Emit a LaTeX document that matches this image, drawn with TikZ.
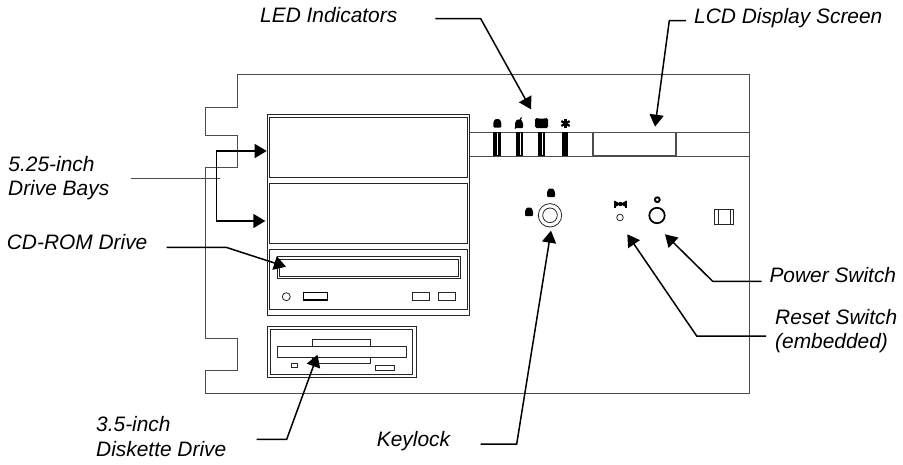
\documentclass[tikz,border=0pt]{standalone}
\usepackage{fontspec}
\setmainfont{Liberation Sans}
\usetikzlibrary{arrows.meta}
\tikzset{
  panelline/.style={draw=black!70,line width=0.9pt},
  bayline/.style={draw=black!85,line width=1pt},
  partline/.style={draw=black!85,line width=0.8pt},
  callout/.style={line width=1.5pt,line join=miter,-{Triangle[length=12pt,width=14pt]}},
  partlabel/.style={anchor=base west,inner sep=0pt,align=left,text=black,
    font=\fontsize{20.9}{25}\selectfont\itshape},
  icon/.style={fill=black,draw=none},
}
\newcommand{\lockmark}[2]{%
  \fill[icon,rounded corners=1pt] (#1-4,#2+4) -- (#1-4,#2-1) -- (#1-2.2,#2-4.5) -- (#1+2.2,#2-4.5)
    -- (#1+4,#2-1) -- (#1+4,#2+4) -- cycle;}
\begin{document}
\begin{tikzpicture}[x=1pt,y=-1pt]
\useasboundingbox (0,0) rectangle (903,464);

% chassis outline
\draw[panelline] (237,74) -- (237,107) -- (205,107) -- (205,135) -- (237,135) -- (237,167.5)
  -- (205,167.5) -- (205,338) -- (237,338) -- (237,370) -- (205,370) -- (205,393)
  -- (749,393) -- (749,74) -- cycle;

% display strip
\draw[panelline] (469,132) -- (749,132);
\draw[panelline] (469,156) -- (749,156);
\foreach \x/\w in {493.3/7.4,516/6.8,538.3/6.8}{
  \fill (\x,132) rectangle (\x+\w,156);
  \fill[white] (\x+0.55*\w,132.6) rectangle (\x+0.55*\w+1,155.4);
}
\fill (562.3,132) rectangle (568.3,156);
\draw[line width=1.4pt,draw=black!70] (592.8,132.5) rectangle (676,155.5);

% indicator marks
\lockmark{497.3}{123.5}
\lockmark{519}{124}
\draw[line width=1.2pt] (515,128.5) -- (521.5,117.5);
\fill[icon,rounded corners=1.5pt] (535,128) -- (535,118) -- (541.5,118.8) -- (548,118) -- (548,128) -- cycle;
\foreach \a in {30,90,150}{
  \draw[line width=2.2pt] (565.5,123.5) ++(\a:4.8) -- ++(\a:-9.6);
}

% drive bays
\draw[bayline] (267,114) rectangle (469,315);
\draw[bayline] (269,117) rectangle (467,177.7);
\draw[bayline] (269,183.7) rectangle (467,243.7);
\draw[bayline] (269,249) rectangle (467,309.3);

% cd-rom drive
\draw[bayline] (277.3,256.7) rectangle (460.7,278);
\draw[bayline] (279.3,259) rectangle (458.7,276);
\draw[partline] (286.3,296.7) circle (4);
\draw[line width=1.4pt] (303.5,292.7) rectangle (327.5,300);
\draw[partline] (412.7,292.7) rectangle (429,300.5);
\draw[partline] (438.7,292.7) rectangle (455,300.5);

% diskette drive
\draw[bayline] (267.7,326) rectangle (416,377.3);
\draw[partline] (270.7,329.3) rectangle (412.7,374.3);
\draw[partline] (312.3,339.3) rectangle (370.7,363);
\draw[partline,fill=white] (277.3,346.7) rectangle (406.7,357.7);
\draw[partline] (291,363.7) rectangle (297.3,367.3);
\draw[partline] (375,365.3) rectangle (394.7,370.3);

% keylock, reset, power
\draw[partline] (550,215.3) circle (11.7);
\draw[partline] (550,215.3) circle (7.3);
\lockmark{551}{193}
\lockmark{529}{212}
\draw[line width=2pt] (614.8,200.5) -- (614.8,207.5);
\draw[line width=2pt] (626.2,200.5) -- (626.2,207.5);
\fill[icon] (614.5,200.5) -- (626.5,207.5) -- (626.5,200.5) -- (614.5,207.5) -- cycle;
\fill[icon] (620.5,204) circle (2.2);
\draw[partline] (620,217.5) circle (3.3);
\draw[line width=1.7pt] (657,215.5) circle (7.7);
\draw[line width=1.9pt] (657.3,199.7) circle (2.4);

% slide latch
\draw[partline] (714,209.3) rectangle (733.7,224.3);
\draw[partline] (718,209.3) -- (718,224.3);
\draw[partline] (730,209.3) -- (730,224.3);

% labels
\node[partlabel] (ledlabel) at (260,22.7) {LED Indicators};
\node[partlabel] (lcdlabel) at (694,23.5) {LCD Display Screen};
\node[partlabel] (baytop) at (8.3,171) {5.25-inch};
\node[partlabel] (baybottom) at (8,195) {Drive Bays};
\node[partlabel] (cdlabel) at (6.7,249.3) {CD-ROM Drive};
\node[partlabel] (powerlabel) at (769.3,282.7) {Power Switch};
\node[partlabel] (resettop) at (775,324) {Reset Switch};
\node[partlabel] (resetbottom) at (775,348.5) {(embedded)};
\node[partlabel] (disktop) at (96,431) {3.5-inch};
\node[partlabel] (diskbottom) at (96,456) {Diskette Drive};
\node[partlabel] (keylabel) at (376.7,446.7) {Keylock};

% connector ends
\coordinate (ledfree) at (435.3,18.7);
\coordinate (ledknee) at (480.7,18.7);
\coordinate (ledtip) at (531,109.3);
\coordinate (lcdfree) at (686,20.7);
\coordinate (lcdknee) at (669.3,20.7);
\coordinate (lcdtip) at (655,126.7);
\coordinate (bayfree) at (131.3,178.7);
\coordinate (bayjoin) at (220,178.7);
\coordinate (bracketup) at (216,151);
\coordinate (bracketdown) at (216,221);
\coordinate (uppertip) at (266.7,151);
\coordinate (lowertip) at (265.3,221);
\coordinate (cdfree) at (166.7,247.3);
\coordinate (cdknee) at (226,247.3);
\coordinate (cdtip) at (286,266.7);
\coordinate (diskfree) at (256.7,439.3);
\coordinate (diskknee) at (286.7,439.3);
\coordinate (disktip) at (317.5,354.8);
\coordinate (keyfree) at (480.7,444);
\coordinate (keyknee) at (516.7,444);
\coordinate (keytip) at (551,230.7);
\coordinate (powerfree) at (761.7,281.3);
\coordinate (powerknee) at (712.7,281.3);
\coordinate (powertip) at (665,234.3);
\coordinate (resetfree) at (766,336);
\coordinate (resetknee) at (696.7,336);
\coordinate (resettip) at (627.3,234.3);

% connectors
\draw[callout] (ledfree) -- (ledknee) -- (ledtip);
\draw[callout] (lcdfree) -- (lcdknee) -- (lcdtip);
\draw[line width=0.8pt,draw=black!70] (bayfree) -- (bayjoin);
\draw[line width=0.9pt] (bracketup) -- (bracketdown);
\draw[callout] (bracketup) -- (uppertip);
\draw[callout] (bracketdown) -- (lowertip);
\draw[callout] (cdfree) -- (cdknee) -- (cdtip);
\draw[callout] (diskfree) -- (diskknee) -- (disktip);
\draw[callout] (keyfree) -- (keyknee) -- (keytip);
\draw[callout] (powerfree) -- (powerknee) -- (powertip);
\draw[callout] (resetfree) -- (resetknee) -- (resettip);
\end{tikzpicture}
\end{document}
